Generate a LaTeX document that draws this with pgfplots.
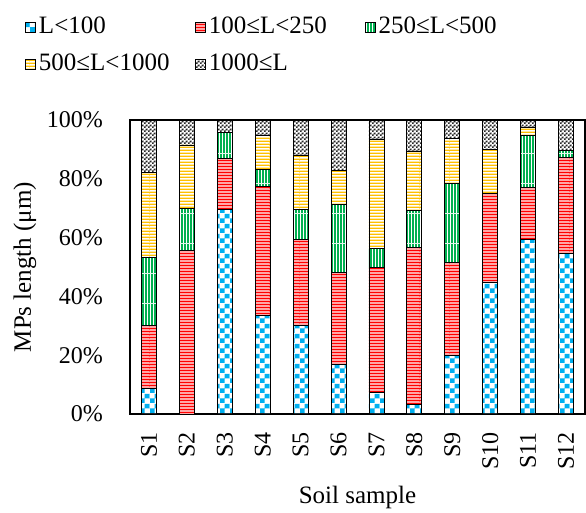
\documentclass[border=0pt]{standalone}
\usepackage{fontspec}
\setmainfont{Liberation Serif}
\usepackage{pgfplots}
\pgfplotsset{compat=1.18}
\usetikzlibrary{patterns}
\definecolor{cblue}{HTML}{00B0F0}
\definecolor{cred}{HTML}{FF0000}
\definecolor{cgreen}{HTML}{00B050}
\definecolor{cyellow}{HTML}{FFC000}
\definecolor{cgray}{HTML}{262626}

\pgfdeclarepatterninherentlycolored{bluechk}{\pgfpointorigin}{\pgfpoint{10pt}{10pt}}{\pgfpoint{10pt}{10pt}}{%
  \pgfsetfillcolor{white}\pgfpathrectangle{\pgfpointorigin}{\pgfpoint{10pt}{10pt}}\pgfusepath{fill}%
  \pgfsetfillcolor{cblue}\pgfpathrectangle{\pgfpointorigin}{\pgfpoint{5pt}{5pt}}%
  \pgfpathrectangle{\pgfpoint{5pt}{5pt}}{\pgfpoint{5pt}{5pt}}\pgfusepath{fill}}
\pgfdeclarepatterninherentlycolored{redstr}{\pgfpointorigin}{\pgfpoint{30pt}{3pt}}{\pgfpoint{30pt}{3pt}}{%
  \pgfsetfillcolor{cred}\pgfpathrectangle{\pgfpointorigin}{\pgfpoint{30pt}{3pt}}\pgfusepath{fill}%
  \pgfsetfillcolor{white}\pgfpathrectangle{\pgfpointorigin}{\pgfpoint{30pt}{0.9pt}}\pgfusepath{fill}}
\pgfdeclarepatterninherentlycolored{yelstr}{\pgfpointorigin}{\pgfpoint{30pt}{3pt}}{\pgfpoint{30pt}{3pt}}{%
  \pgfsetfillcolor{cyellow}\pgfpathrectangle{\pgfpointorigin}{\pgfpoint{30pt}{3pt}}\pgfusepath{fill}%
  \pgfsetfillcolor{white}\pgfpathrectangle{\pgfpointorigin}{\pgfpoint{30pt}{1pt}}\pgfusepath{fill}}
\pgfdeclarepatterninherentlycolored{grnstr}{\pgfpointorigin}{\pgfpoint{3pt}{30pt}}{\pgfpoint{3pt}{30pt}}{%
  \pgfsetfillcolor{cgreen}\pgfpathrectangle{\pgfpointorigin}{\pgfpoint{3pt}{30pt}}\pgfusepath{fill}%
  \pgfsetfillcolor{white}\pgfpathrectangle{\pgfpointorigin}{\pgfpoint{1pt}{30pt}}\pgfusepath{fill}}
\pgfdeclarepatterninherentlycolored{graychk}{\pgfpointorigin}{\pgfpoint{4pt}{4pt}}{\pgfpoint{4pt}{4pt}}{%
  \pgfsetfillcolor{white}\pgfpathrectangle{\pgfpointorigin}{\pgfpoint{4pt}{4pt}}\pgfusepath{fill}%
  \pgfsetfillcolor{cgray}\pgfpathrectangle{\pgfpointorigin}{\pgfpoint{2pt}{2pt}}%
  \pgfpathrectangle{\pgfpoint{2pt}{2pt}}{\pgfpoint{2pt}{2pt}}\pgfusepath{fill}}

\pgfplotstableread{
x  a    b    c    d    e
1  8.7  21.5 23.2 28.7 17.9
2  0    55.7 14.1 21.7 8.5
3  69.5 17.5 8.7  0    4.3
4  33.6 43.8 5.7  11.5 5.4
5  30.2 29.1 10.2 18.6 11.9
6  17.0 31.2 23.0 11.5 17.3
7  7.3  42.4 6.5  37.2 6.6
8  3.4  53.1 12.7 20.1 10.7
9  19.8 31.6 27.1 15.2 6.3
10 44.9 30.2 0    15.0 9.9
11 59.3 17.8 17.5 2.8  2.6
12 54.6 32.6 2.3  0    10.5
}\datatable

\begin{document}
\begin{tikzpicture}[x=1pt,y=1pt]
\path[use as bounding box] (0,0) rectangle (586,512);
\begin{axis}[
  at={(130pt,98pt)}, anchor=south west,
  scale only axis, width=455pt, height=294pt,
  ybar stacked, bar width=15pt,
  xmin=0.5, xmax=12.5, ymin=0, ymax=100,
  xtick={1,...,12},
  xticklabels={S1,S2,S3,S4,S5,S6,S7,S8,S9,S10,S11,S12},
  ytick={0,20,...,100},
  yticklabel={\pgfmathprintnumber{\tick}\%},
  major tick length=0pt,
  axis line style={black, line width=1.3pt},
  tick label style={font=\fontsize{24}{28}\selectfont},
  x tick label style={rotate=90, anchor=east, inner sep=0pt, xshift=-18pt},
  y tick label style={anchor=east, inner sep=0pt, xshift=-27pt},
  /pgf/number format/assume math mode=true,
  every axis y label/.style={at={(axis description cs:-0.2308,0.5)}, rotate=90, anchor=center, font=\fontsize{25}{30}\selectfont},
  every axis x label/.style={at={(axis description cs:0.5,-0.2823)}, anchor=center, font=\fontsize{25}{30}\selectfont},
  xlabel={Soil sample},
  ylabel={MPs length (μm)},
  every axis plot/.append style={draw=black, line width=0.8pt},
  legend image code/.code={\draw[#1, line width=0.8pt] (0pt,-5pt) rectangle (10pt,5pt);},
  legend columns=3,
  legend style={draw=none, fill=none, at={(axis description cs:-0.2308,1.357)}, anchor=north west,
    font=\fontsize{25}{30}\selectfont, inner sep=0pt, row sep=13pt,
    nodes={inner sep=0pt, text height=18pt, text depth=6pt},
    cells={anchor=west}},
]
\addplot[pattern=bluechk] table[x=x,y=a]{\datatable};
\addlegendentry{\makebox[159pt][l]{\hspace{3pt}L<100}}
\addplot[pattern=redstr] table[x=x,y=b]{\datatable};
\addlegendentry{\makebox[159pt][l]{\hspace{3pt}100≤L<250}}
\addplot[pattern=grnstr] table[x=x,y=c]{\datatable};
\addlegendentry{\makebox[120pt][l]{\hspace{3pt}250≤L<500}}
\addplot[pattern=yelstr] table[x=x,y=d]{\datatable};
\addlegendentry{\makebox[159pt][l]{\hspace{3pt}500≤L<1000}}
\addplot[pattern=graychk] table[x=x,y=e]{\datatable};
\addlegendentry{\makebox[159pt][l]{\hspace{3pt}1000≤L}}
\end{axis}
\end{tikzpicture}
\end{document}
